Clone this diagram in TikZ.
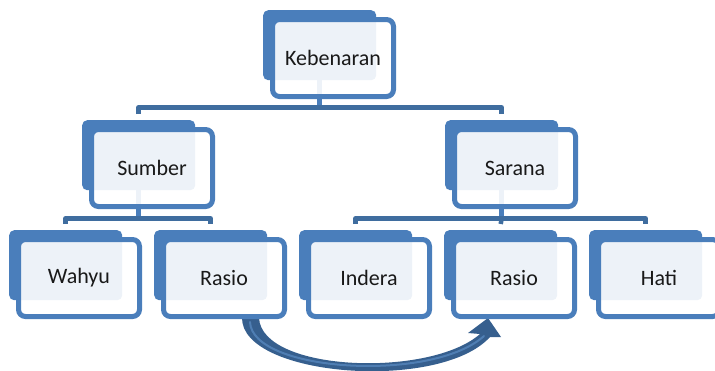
\documentclass[tikz,border=0pt]{standalone}
\usepackage{fontspec}
\setmainfont{Carlito}
\usetikzlibrary{calc}
\definecolor{boxblue}{HTML}{4A7EBB}
\definecolor{busblue}{HTML}{3F6D9F}
\definecolor{arrowdark}{HTML}{365F8E}
\definecolor{arrowlight}{HTML}{5B8CC4}
\begin{document}
\begin{tikzpicture}[x=1pt,y=-1pt,
  backbox/.style={rectangle, rounded corners=5pt, fill=boxblue,
    minimum width=113pt, minimum height=70pt, inner sep=0pt, anchor=north west},
  frontbox/.style={rectangle, rounded corners=7pt, draw=boxblue, line width=5pt,
    fill=white, fill opacity=0.9, text opacity=1, minimum width=121pt,
    minimum height=77pt, inner sep=0pt, font=\fontsize{22}{26}\selectfont, text=black!90},
  bus/.style={draw=busblue, line width=4.5pt, line join=round},
  stub/.style={draw=boxblue, line width=4.5pt}]
\path[use as bounding box] (0,0) rectangle (715,370);
\clip (0,0) rectangle (715,370);

% back plates of every box
\node[backbox] (kebB)  at (263,10)  {};
\node[backbox] (sumB)  at (82,120)  {};
\node[backbox] (sarB)  at (445,120) {};
\node[backbox] (wahB)  at (9,230)   {};
\node[backbox] (rasaB) at (154,230) {};
\node[backbox] (indB)  at (299,230) {};
\node[backbox] (rasbB) at (444,230) {};
\node[backbox] (hatB)  at (589,230) {};

% tree connectors
\draw[stub] (kebB.south) -- ($(kebB.south)+(0,27)$) coordinate (kbus);
\draw[bus] ($(sumB.north)+(0,-6)$) |- (kbus) -| ($(sarB.north)+(0,-6)$);

\draw[stub] (sumB.south) -- ($(sumB.south)+(0,28)$) coordinate (sbus);
\draw[bus] ($(wahB.north)+(0,-6)$) |- (sbus) -| ($(rasaB.north)+(0,-6)$);

\draw[stub] (sarB.south) -- ($(sarB.south)+(0,28)$) coordinate (rbus);
\draw[bus] ($(indB.north)+(0,-6)$) |- (rbus) -| ($(hatB.north)+(0,-6)$);
\draw[bus] (rbus) -- ($(rasbB.north)+(0,-6)$);

% curved arrow from the first Rasio to the second
\fill[arrowdark] (242,318) .. controls (242,377) and (440,392) .. (490,337)
  -- (501,337) -- (488,318) -- (468,333) -- (480,334)
  .. controls (430,378) and (262,372) .. (259,318) -- cycle;
\draw[arrowlight, line width=2pt, line cap=round, opacity=0.7]
  (250,322) .. controls (252,372) and (432,383) .. (484,336);

% front frames with labels
\node[frontbox] (kebF)  at ($(kebB.north west)+(70,48)$)  {Kebenaran};
\node[frontbox] (sumF)  at ($(sumB.north west)+(70,48)$)  {Sumber};
\node[frontbox] (sarF)  at ($(sarB.north west)+(70,48)$)  {Sarana};
\node[frontbox] (wahF)  at ($(wahB.north west)+(70,48)$)  {Wahyu};
\node[frontbox] (rasaF) at ($(rasaB.north west)+(70,48)$) {Rasio};
\node[frontbox] (indF)  at ($(indB.north west)+(70,48)$)  {Indera};
\node[frontbox] (rasbF) at ($(rasbB.north west)+(70,48)$) {Rasio};
\node[frontbox] (hatF)  at ($(hatB.north west)+(70,48)$)  {Hati};
\end{tikzpicture}
\end{document}
